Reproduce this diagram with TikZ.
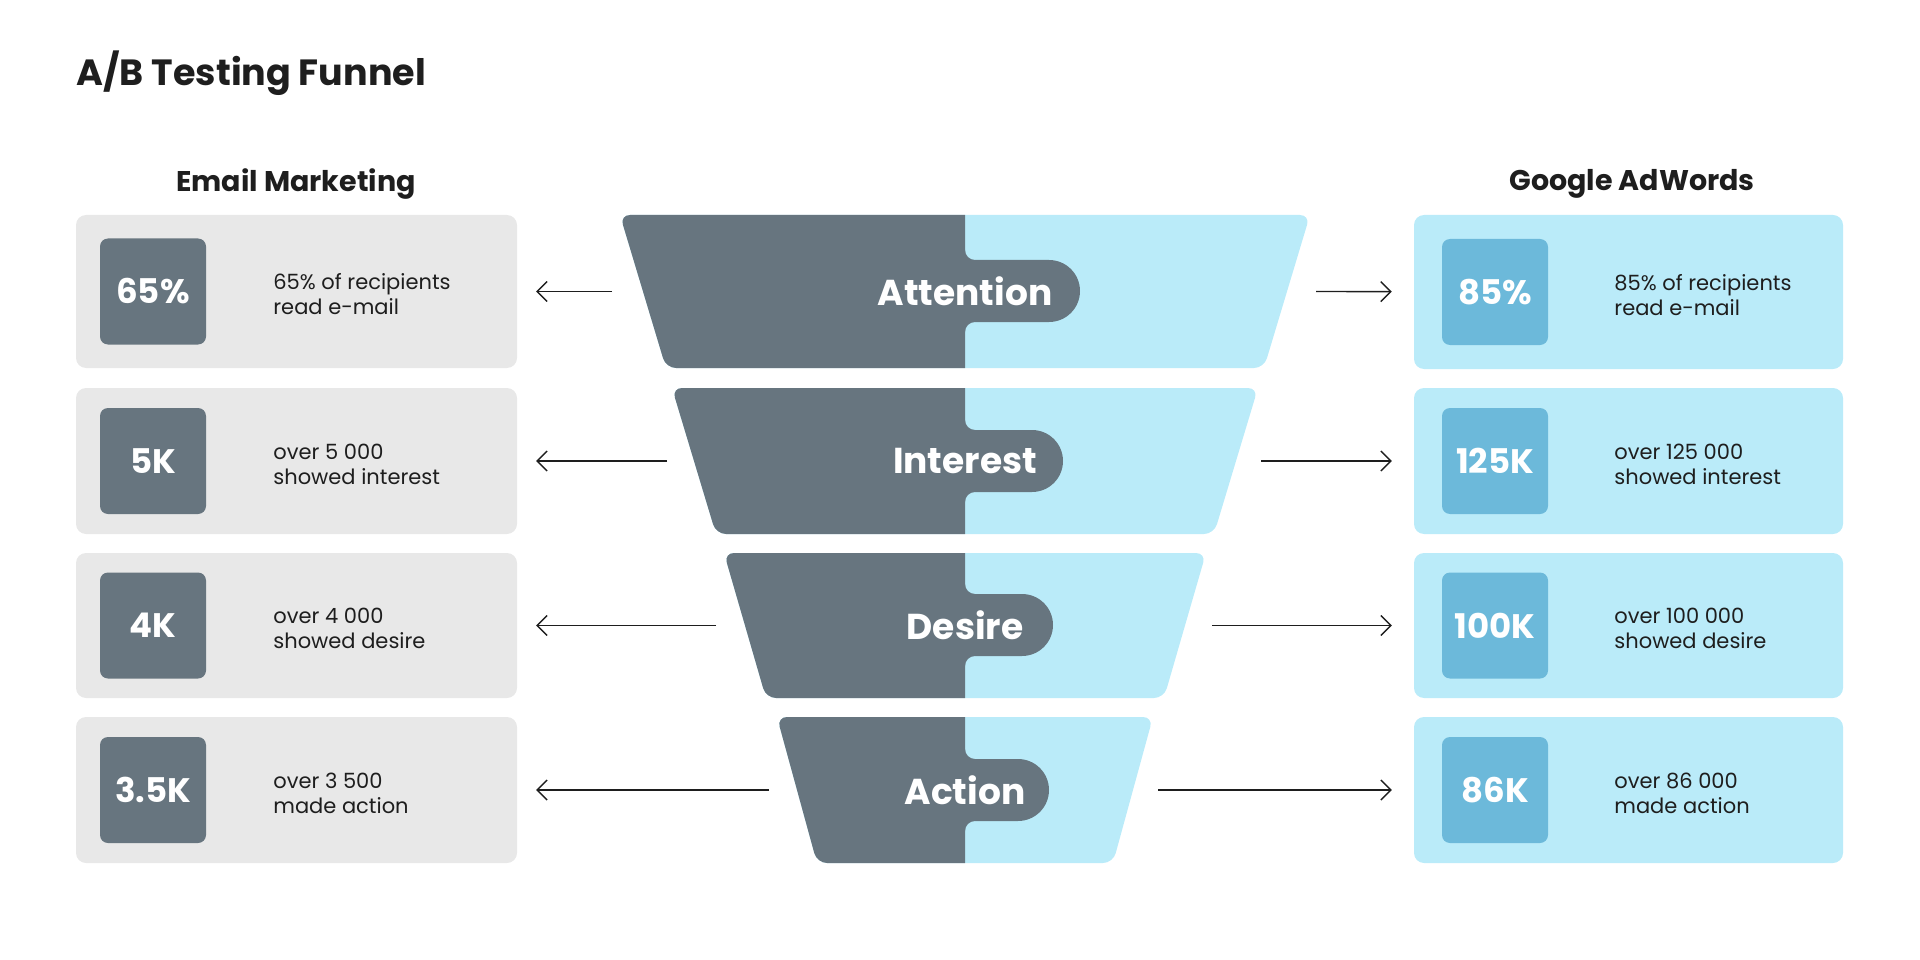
\documentclass[tikz,border=0pt]{standalone}
\usepackage{fontspec}
\setmainfont{Poppins}
\usetikzlibrary{arrows.meta,positioning}
\definecolor{slate}{HTML}{67757F}
\definecolor{sky}{HTML}{BAEBF9}
\definecolor{skydeep}{HTML}{6CB9DA}
\definecolor{panel}{HTML}{E8E8E8}
\definecolor{ink}{HTML}{1E1E1E}

\begin{document}
\begin{tikzpicture}[x=1pt,y=-1pt,>={Straight Barb[length=10pt,width=20pt]},
 lbox/.style={fill=panel,rounded corners=10pt,minimum width=441pt,inner sep=0pt},
 rbox/.style={fill=sky,rounded corners=10pt,minimum width=429pt,inner sep=0pt},
 val/.style={text=white,font=\fontsize{34}{40}\selectfont\bfseries,rounded corners=8pt,
   minimum size=106pt,inner sep=0pt},
 info/.style={text=ink,font=\fontsize{21}{25}\selectfont,align=left,inner sep=0pt,yshift=-3pt},
 head/.style={text=ink,font=\fontsize{28.5}{34}\selectfont\bfseries},
 stage/.style={text=white,font=\fontsize{36}{42}\selectfont\bfseries},
 link/.style={->,draw=ink,line width=1.4pt,shorten >=19pt}]
\useasboundingbox (0,0) rectangle (1920,960);
\node[head,anchor=west,font=\fontsize{36.5}{44}\selectfont\bfseries] (title) at (73,73) {A/B Testing Funnel};
\node[head] (hdrA) at (296,184) {Email Marketing};
\node[head] (hdrB) at (1632,184) {Google AdWords};
% funnel bands
\fill[sky,rounded corners=10] (620,215) -- (1310,215) -- (1264,368) -- (666,368) -- cycle;
\fill[slate,rounded corners=10] (965,215) -- (620,215) -- (666,368) -- (965,368);
\fill[slate] (965,250) arc[start angle=180,end angle=90,radius=10] -- (1049,260)
  arc[start angle=-90,end angle=90,radius=31] -- (975,322) arc[start angle=270,end angle=180,radius=10] -- cycle;
\fill[sky,rounded corners=10] (672,388) -- (1258,388) -- (1214,534) -- (716,534) -- cycle;
\fill[slate,rounded corners=10] (965,388) -- (672,388) -- (716,534) -- (965,534);
\fill[slate] (965,420) arc[start angle=180,end angle=90,radius=10] -- (1032,430)
  arc[start angle=-90,end angle=90,radius=31] -- (975,492) arc[start angle=270,end angle=180,radius=10] -- cycle;
\fill[sky,rounded corners=10] (724,553) -- (1206,553) -- (1164,698) -- (766,698) -- cycle;
\fill[slate,rounded corners=10] (965,553) -- (724,553) -- (766,698) -- (965,698);
\fill[slate] (965,584) arc[start angle=180,end angle=90,radius=10] -- (1022,594)
  arc[start angle=-90,end angle=90,radius=31] -- (975,656) arc[start angle=270,end angle=180,radius=10] -- cycle;
\fill[sky,rounded corners=10] (777,717) -- (1153,717) -- (1113,863) -- (817,863) -- cycle;
\fill[slate,rounded corners=10] (965,717) -- (777,717) -- (817,863) -- (965,863);
\fill[slate] (965,749) arc[start angle=180,end angle=90,radius=10] -- (1018,759)
  arc[start angle=-90,end angle=90,radius=31] -- (975,821) arc[start angle=270,end angle=180,radius=10] -- cycle;
\node[stage] (st1) at (965,291) {Attention};
\node[stage] (st2) at (965,461) {Interest};
\node[stage] (st3) at (965,625) {Desire};
\node[stage] (st4) at (965,790) {Action};
% email marketing side
\node[lbox,minimum height=153pt] (lbox1) at (296.5,291.5) {};
\node[lbox,minimum height=146pt] (lbox2) at (296.5,461) {};
\node[lbox,minimum height=145pt] (lbox3) at (296.5,625.5) {};
\node[lbox,minimum height=146pt] (lbox4) at (296.5,790) {};
\node[val,fill=slate] (lv1) [right=24pt of lbox1.west] {65\%};
\node[val,fill=slate] (lv2) [right=24pt of lbox2.west] {5K};
\node[val,fill=slate] (lv3) [right=24pt of lbox3.west] {4K};
\node[val,fill=slate] (lv4) [right=24pt of lbox4.west] {3.5K};
\node[info] (lt1) [right=67pt of lv1.east] {65\% of recipients\\read e-mail};
\node[info] (lt2) [right=67pt of lv2.east] {over 5 000\\showed interest};
\node[info] (lt3) [right=67pt of lv3.east] {over 4 000\\showed desire};
\node[info] (lt4) [right=67pt of lv4.east] {over 3 500\\made action};
% google adwords side
\node[rbox,minimum height=154pt] (rbox1) at (1628.5,292) {};
\node[rbox,minimum height=146pt] (rbox2) at (1628.5,461) {};
\node[rbox,minimum height=145pt] (rbox3) at (1628.5,625.5) {};
\node[rbox,minimum height=146pt] (rbox4) at (1628.5,790) {};
\node[val,fill=skydeep] (rv1) [right=28pt of rbox1.west] {85\%};
\node[val,fill=skydeep] (rv2) [right=28pt of rbox2.west] {125K};
\node[val,fill=skydeep] (rv3) [right=28pt of rbox3.west] {100K};
\node[val,fill=skydeep] (rv4) [right=28pt of rbox4.west] {86K};
\node[info] (rt1) [right=66pt of rv1.east] {85\% of recipients\\read e-mail};
\node[info] (rt2) [right=66pt of rv2.east] {over 125 000\\showed interest};
\node[info] (rt3) [right=66pt of rv3.east] {over 100 000\\showed desire};
\node[info] (rt4) [right=66pt of rv4.east] {over 86 000\\made action};
% arrows
\coordinate (la1) at (612,291.5);
\coordinate (la2) at (667,461);
\coordinate (la3) at (716,625.5);
\coordinate (la4) at (769,790);
\coordinate (ra1) at (1316,291.5);
\coordinate (ra2) at (1261,461);
\coordinate (ra3) at (1212,625.5);
\coordinate (ra4) at (1158,790);
\draw[link] (la1) -- (lbox1);
\draw[link] (la2) -- (lbox2);
\draw[link] (la3) -- (lbox3);
\draw[link] (la4) -- (lbox4);
\draw[link,shorten >=22pt] (ra1) -- (rbox1);
\draw[link,shorten >=22pt] (ra2) -- (rbox2);
\draw[link,shorten >=22pt] (ra3) -- (rbox3);
\draw[link,shorten >=22pt] (ra4) -- (rbox4);
\end{tikzpicture}
\end{document}
